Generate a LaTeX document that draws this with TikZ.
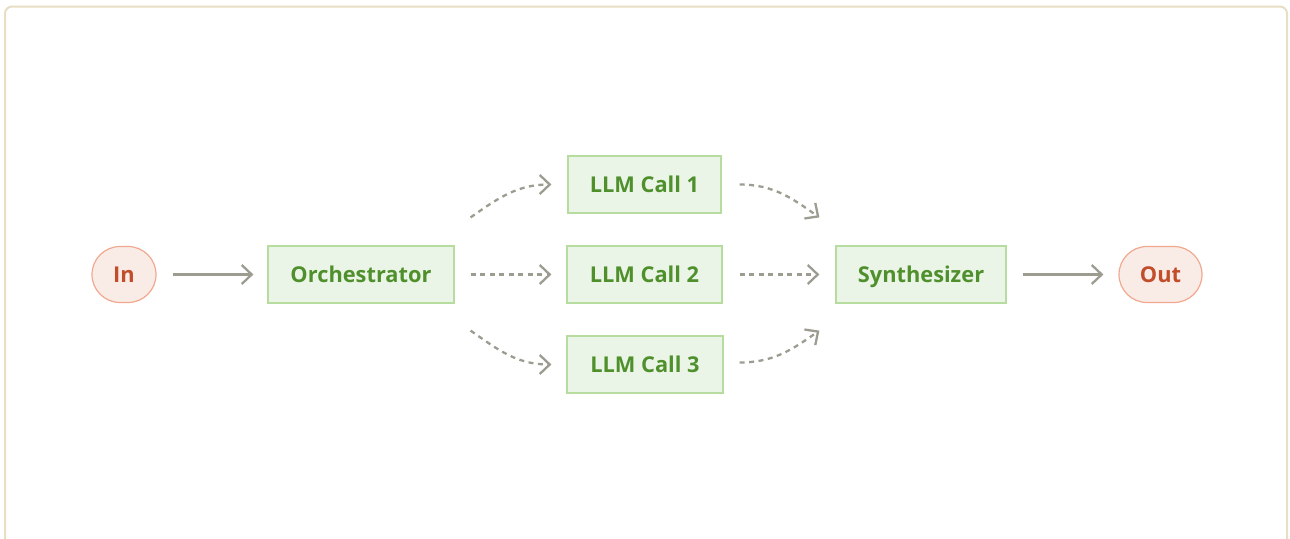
\documentclass[tikz,border=0pt]{standalone}
\usepackage{fontspec}
\setmainfont{Open Sans}
\usetikzlibrary{arrows.meta}
\definecolor{frameclr}{HTML}{E8DEC4}
\definecolor{arrowclr}{HTML}{9D9C91}
\definecolor{boxfill}{HTML}{EBF5E7}
\definecolor{boxdraw}{HTML}{B6DCA0}
\definecolor{boxtext}{HTML}{4F902C}
\definecolor{termfill}{HTML}{F9ECE7}
\definecolor{termdraw}{HTML}{F1A88F}
\definecolor{termtext}{HTML}{C24D2B}
\tikzset{
  label font/.style={font=\fontsize{21.8}{24}\selectfont\bfseries,
    text height=15.5pt, text depth=0pt},
  stepbox/.style={draw=boxdraw, fill=boxfill, line width=1.2pt, text=boxtext,
    minimum height=57pt, inner sep=0pt, label font},
  terminal/.style={draw=termdraw, fill=termfill, line width=1.2pt, text=termtext,
    rounded corners=28pt, minimum height=56pt, inner sep=0pt, label font},
  flow/.style={draw=arrowclr, line width=2.3pt,
    -{Straight Barb[length=10pt,width=19pt,line width=2.3pt]}},
  dflow/.style={flow, dash pattern=on 5pt off 4.5pt},
}
\begin{document}
\begin{tikzpicture}[x=1pt, y=1pt]
  \useasboundingbox (0,0) rectangle (1290,-538);
  % outer frame, open at the bottom edge
  \begin{scope}
    \clip (0,0) rectangle (1290,-538);
    \draw[frameclr, line width=2pt, rounded corners=7pt] (5,-6.5) rectangle (1287,-560);
  \end{scope}

  % nodes
  \node[terminal, minimum width=64pt] (in)  at (124,-274.5) {In};
  \node[stepbox, minimum width=186pt] (orch) at (361,-274.5) {Orchestrator};
  \node[stepbox, minimum width=153pt] (llm1) at (644.5,-184.5) {LLM Call 1};
  \node[stepbox, minimum width=155pt] (llm2) at (644.5,-274.5) {LLM Call 2};
  \node[stepbox, minimum width=156pt] (llm3) at (645,-364.5) {LLM Call 3};
  \node[stepbox, minimum width=170pt] (synth) at (921,-274.5) {Synthesizer};
  \node[terminal, minimum width=83pt] (out) at (1160.5,-274.5) {Out};

  % straight connectors
  \draw[flow, shorten <=16pt, shorten >=14pt] (in.east) -- (orch.west);
  \draw[dflow, shorten <=16pt, shorten >=15pt] (orch.east) -- (llm2.west);
  \draw[dflow, shorten <=17pt, shorten >=16pt] (llm2.east) -- (synth.west);
  \draw[flow, shorten <=16pt, shorten >=15pt] (synth.east) -- (out.west);

  % fan-out from the orchestrator
  \draw[dflow] ([shift={(16pt,28pt)}]orch.north east) to[out=35,in=180] ([xshift=-16pt]llm1.west);
  \draw[dflow] ([shift={(16pt,-27pt)}]orch.south east) to[out=-35,in=180] ([xshift=-15pt]llm3.west);

  % fan-in to the synthesizer
  \draw[dflow] ([xshift=18pt]llm1.east) to[out=0,in=145] ([shift={(-16pt,28pt)}]synth.north west);
  \draw[dflow] ([xshift=16pt,yshift=2pt]llm3.east) to[out=0,in=-145] ([shift={(-16pt,-27pt)}]synth.south west);
\end{tikzpicture}
\end{document}
